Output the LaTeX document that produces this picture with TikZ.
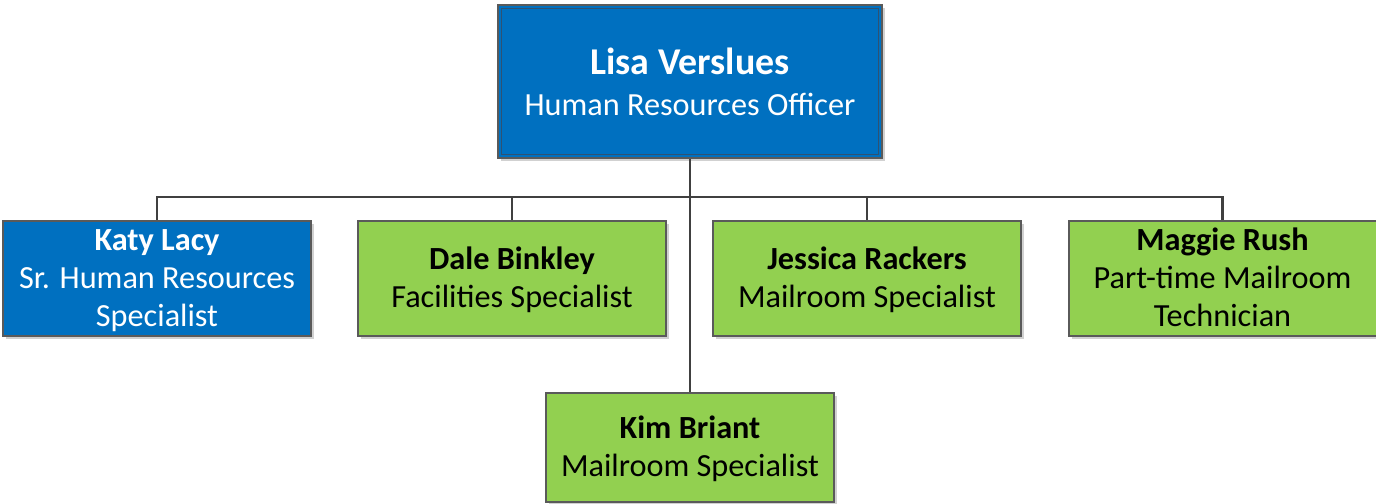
\documentclass[tikz,border=0pt]{standalone}
\usepackage{fontspec}
\setmainfont{Carlito}
\usetikzlibrary{shadows}
\definecolor{hrblue}{HTML}{0070C0}
\definecolor{hrgreen}{HTML}{92D050}
\definecolor{edge}{HTML}{5A5A5A}
\definecolor{inneredge}{HTML}{2E5273}
\definecolor{wire}{HTML}{404040}
\newcommand{\orgtext}[1]{\raisebox{-2pt}[\height][\depth]{\setlength{\tabcolsep}{0pt}\begin{tabular}{c}#1\end{tabular}}}
\tikzset{
  boxbase/.style={draw=edge, line width=1.5pt, inner sep=0pt,
    drop shadow={shadow xshift=2.5pt, shadow yshift=-2.5pt, fill=black!18, opacity=1}},
  topbox/.style={boxbase, align=center, fill=hrblue, text=white, minimum width=288pt, minimum height=114.75pt,
    font=\fontsize{24.2}{30.75}\selectfont},
  bluebox/.style={boxbase, fill=hrblue, text=white, minimum width=231pt, minimum height=86.25pt,
    font=\fontsize{24.2}{28.5}\selectfont},
  greenbox/.style={boxbase, fill=hrgreen, text=black, minimum width=231pt, minimum height=86.25pt,
    font=\fontsize{24.2}{28.5}\selectfont},
  wireline/.style={draw=wire, line width=2.1pt}
}
\begin{document}
\begin{tikzpicture}[x=0.75pt, y=-0.75pt]
\useasboundingbox (0,0) rectangle (1376,503);
\node[topbox] (top) at (690,81.5) {{\fontsize{28.4}{30.75}\selectfont\bfseries Lisa Verslues}\\Human Resources Officer};
\draw[inneredge, line width=1.1pt] ([xshift=3.5pt,yshift=-3.5pt]top.north west) rectangle ([xshift=-3.5pt,yshift=3.5pt]top.south east);
\node[bluebox] (katy) at (157,278.5) {\orgtext{\textbf{Katy Lacy}\\Sr. Human Resources\\Specialist}};
\node[greenbox] (dale) at (512,278.5) {\orgtext{\textbf{Dale Binkley}\\Facilities Specialist}};
\node[greenbox] (jessica) at (867,278.5) {\orgtext{\textbf{Jessica Rackers}\\Mailroom Specialist}};
\node[greenbox] (maggie) at (1222.5,278.5) {\orgtext{\textbf{Maggie Rush}\\Part-time Mailroom\\Technician}};
\node[greenbox, minimum width=216pt, minimum height=81.75pt] (kim) at (690,447.5) {\orgtext{\textbf{Kim Briant}\\Mailroom Specialist}};
\coordinate (bus) at (690,197);
\draw[wireline] (top.south) -- (bus) -| (katy.north);
\draw[wireline] (bus) -| (dale.north);
\draw[wireline] (bus) -| (jessica.north);
\draw[wireline] (bus) -| (maggie.north);
\draw[wireline] (top.south) -- (kim.north);
\end{tikzpicture}
\end{document}
